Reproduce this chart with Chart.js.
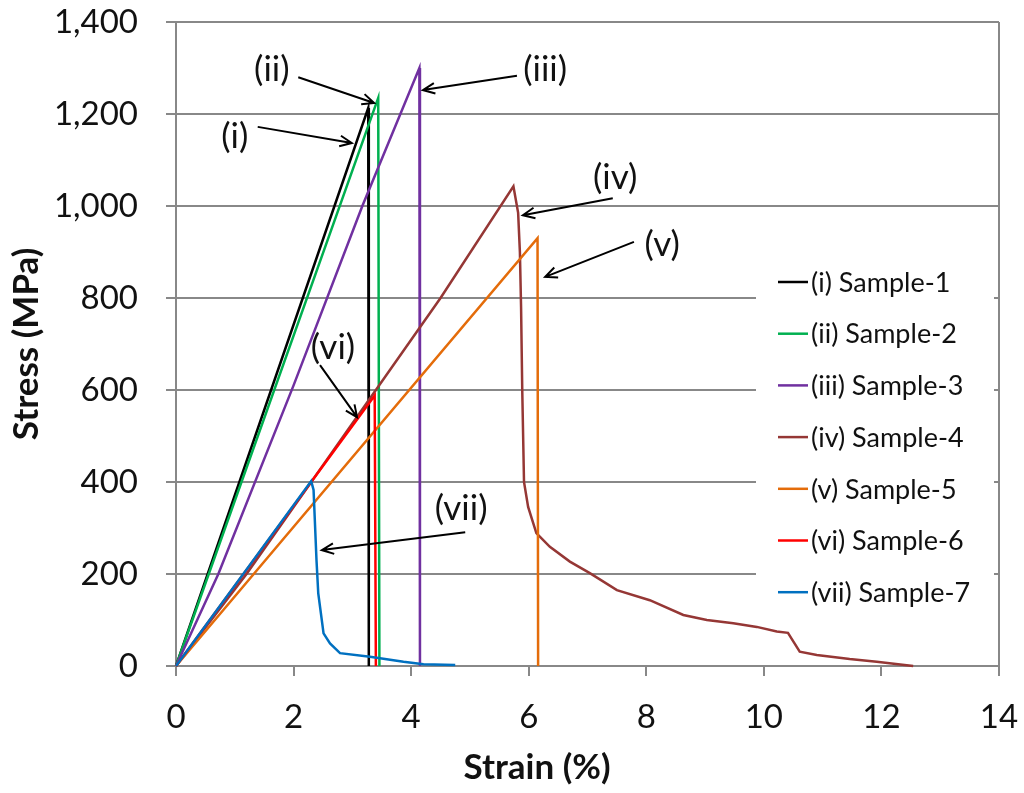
<!DOCTYPE html>
<html>
<head>
<meta charset="utf-8">
<script src="https://cdn.jsdelivr.net/npm/chart.js@4.4.1/dist/chart.umd.min.js"></script>
<style>
  html, body { margin: 0; padding: 0; background: #fff; }
  #wrap { width: 1024px; height: 793px; }
</style>
</head>
<body>
<div id="wrap"><canvas id="chart" width="1024" height="793"></canvas></div>
<script>
// ── Data (strain %, stress MPa) ──
const sampleNames = ['(i) Sample-1', '(ii) Sample-2', '(iii) Sample-3', '(iv) Sample-4', '(v) Sample-5', '(vi) Sample-6', '(vii) Sample-7'];
const sampleColors = ['#000000', '#00b050', '#7030a0', '#953735', '#e46c0a', '#ff0000', '#0070c0'];

const strain1 = [0, 3.27, 3.28];
const stress1 = [0, 1213, 0];
const strain2 = [0, 3.44, 3.46];
const stress2 = [0, 1235, 0];
const strain3 = [0, 0.72, 2.0, 3.17, 4.14, 4.15];
const stress3 = [0, 200, 610, 1000, 1300, 0];
const strain4 = [0, 1.2, 2.3, 3.4, 4.5, 5.74, 5.82, 5.85, 5.87, 5.89, 5.92, 5.99, 6.13, 6.36, 6.70, 7.04, 7.50, 8.06, 8.63, 9.03, 9.48, 9.88, 10.22, 10.41, 10.61, 10.90, 11.46, 11.92, 12.54];
const stress4 = [0, 200, 400, 600, 800, 1043, 985, 900, 780, 600, 400, 346, 289, 259, 227, 202, 165, 143, 111, 100, 93, 85, 75, 72, 31, 24, 15, 9, 0];
const strain5 = [0, 6.15, 6.16];
const stress5 = [0, 930, 0];
const strain6 = [0, 3.38, 3.40];
const stress6 = [0, 588, 0];
const strain7 = [0, 2.30, 2.34, 2.39, 2.42, 2.51, 2.62, 2.79, 3.30, 3.87, 4.21, 4.75];
const stress7 = [0, 402, 383, 230, 158, 71, 49, 28, 20, 9, 4, 2];

const strainSets = [strain1, strain2, strain3, strain4, strain5, strain6, strain7];
const stressSets = [stress1, stress2, stress3, stress4, stress5, stress6, stress7];

const xTicks = [0, 2, 4, 6, 8, 10, 12, 14];
const yTicks = [0, 200, 400, 600, 800, 1000, 1200, 1400];

// annotation labels + arrows, in data coords
const notes = [
  { text: '(i)',   at: [1.00, 1150], from: [1.39, 1172], to: [2.99, 1137] },
  { text: '(ii)',  at: [1.63, 1297], from: [2.08, 1280], to: [3.37, 1224] },
  { text: '(iii)', at: [6.28, 1296], from: [5.80, 1283], to: [4.20, 1252] },
  { text: '(iv)',  at: [7.47, 1061], from: [7.43, 1017], to: [5.90, 980] },
  { text: '(v)',   at: [8.27, 915],  from: [7.79, 922],  to: [6.28, 846] },
  { text: '(vi)',  at: [2.67, 693],  from: [2.45, 654],  to: [3.08, 541] },
  { text: '(vii)', at: [4.85, 343],  from: [4.92, 291],  to: [2.48, 252] },
];

const FONT = 'Lato, "Open Sans", sans-serif';
const GRID = '#888888';

function arrow(ctx, x1, y1, x2, y2) {
  const a = Math.atan2(y2 - y1, x2 - x1), hl = 13, ha = 0.42;
  ctx.beginPath();
  ctx.moveTo(x1, y1); ctx.lineTo(x2, y2);
  ctx.moveTo(x2 - hl * Math.cos(a - ha), y2 - hl * Math.sin(a - ha));
  ctx.lineTo(x2, y2);
  ctx.lineTo(x2 - hl * Math.cos(a + ha), y2 - hl * Math.sin(a + ha));
  ctx.stroke();
}

const overlay = {
  id: 'overlay',
  afterDraw(chart) {
    const ctx = chart.ctx, ca = chart.chartArea;
    const xs = chart.scales.x, ys = chart.scales.y;
    ctx.save();

    // legend box (sits inside the plot, hides gridlines)
    ctx.fillStyle = '#fff';
    ctx.fillRect(ca.right - 243, 262, 238, 350);
    ctx.font = '27px ' + FONT;
    ctx.textBaseline = 'middle';
    ctx.textAlign = 'left';
    sampleNames.forEach((name, i) => {
      const y = 282 + i * 51.7;
      ctx.strokeStyle = sampleColors[i];
      ctx.lineWidth = 2.5;
      ctx.beginPath(); ctx.moveTo(ca.right - 221, y); ctx.lineTo(ca.right - 191, y); ctx.stroke();
      ctx.fillStyle = '#111';
      ctx.fillText(name, ca.right - 188, y + 1);
    });

    // annotations
    ctx.strokeStyle = '#000';
    ctx.lineWidth = 2;
    ctx.fillStyle = '#111';
    ctx.font = '35px ' + FONT;
    ctx.textAlign = 'center';
    notes.forEach(n => {
      ctx.fillText(n.text, xs.getPixelForValue(n.at[0]), ys.getPixelForValue(n.at[1]));
      arrow(ctx, xs.getPixelForValue(n.from[0]), ys.getPixelForValue(n.from[1]),
                 xs.getPixelForValue(n.to[0]), ys.getPixelForValue(n.to[1]));
    });

    // x axis title
    ctx.font = 'bold 35px ' + FONT;
    ctx.fillText('Strain (%)', ca.left + 361, 768);
    ctx.restore();
  }
};

new Chart(document.getElementById('chart'), {
  type: 'scatter',
  data: {
    datasets: sampleNames.map((name, i) => ({
      label: name,
      data: strainSets[i].map((x, j) => ({ x, y: stressSets[i][j] })),
      showLine: true,
      borderColor: sampleColors[i],
      backgroundColor: sampleColors[i],
      borderWidth: 2.5,
      pointRadius: 0,
      tension: 0,
      clip: false,
      order: 7 - i,
    })),
  },
  options: {
    responsive: false,
    animation: false,
    layout: { padding: { left: 0, right: 25, top: 22, bottom: 0 } },
    plugins: { legend: { display: false }, tooltip: { enabled: false } },
    scales: {
      x: {
        type: 'linear', min: 0, max: 14,
        afterBuildTicks: s => { s.ticks = xTicks.map(v => ({ value: v })); },
        afterFit: s => { s.height = 127; s.paddingLeft = 0; s.paddingRight = 0; },
        border: { color: GRID, width: 2 },
        grid: {
          color: c => (c.tick && c.tick.value === 14 ? GRID : 'rgba(0,0,0,0)'),
          tickColor: GRID, lineWidth: 2, tickLength: 10,
        },
        ticks: { color: '#111', padding: 22, font: { family: FONT, size: 33 } },
      },
      y: {
        type: 'linear', min: 0, max: 1400,
        afterBuildTicks: s => { s.ticks = yTicks.map(v => ({ value: v })); },
        afterFit: s => { s.width = 176; s.paddingTop = 0; s.paddingBottom = 0; },
        border: { color: GRID, width: 2 },
        grid: { color: GRID, tickColor: GRID, lineWidth: 2, tickLength: 10 },
        ticks: {
          color: '#111', padding: 28, font: { family: FONT, size: 33 },
          callback: v => v.toLocaleString('en-US'),
        },
        title: {
          display: true, text: 'Stress (MPa)', color: '#111',
          font: { family: FONT, size: 35, weight: 'bold' },
          padding: { top: 6, bottom: 0 },
        },
      },
    },
  },
  plugins: [overlay],
});
</script>
</body>
</html>
